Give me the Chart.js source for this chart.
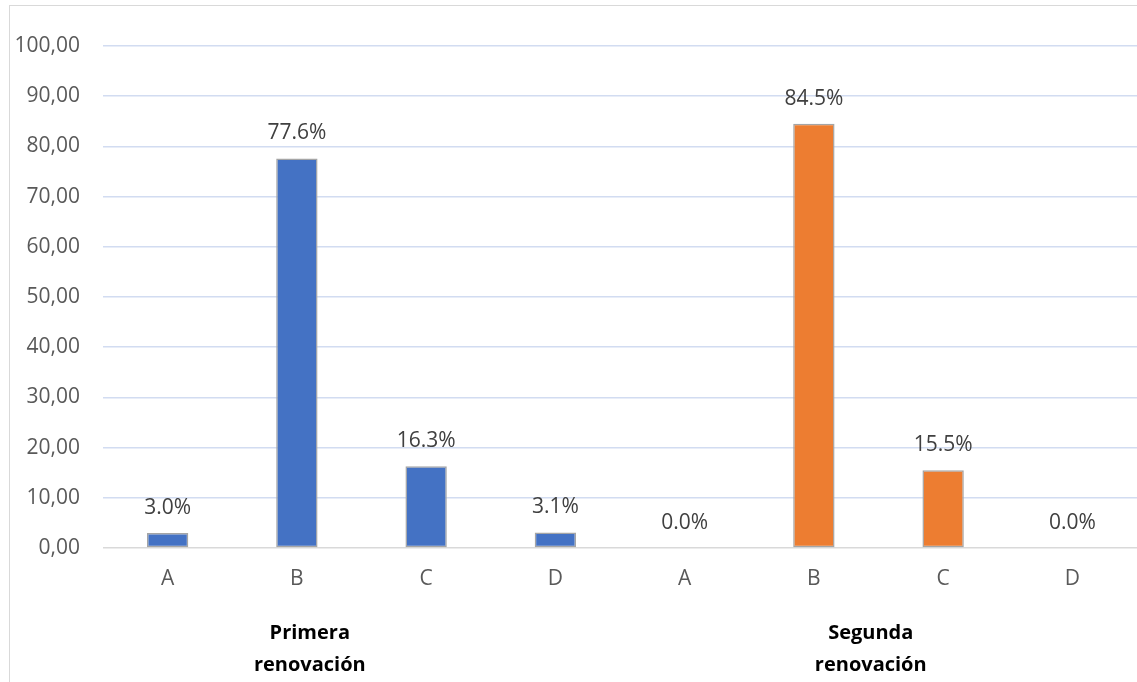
<!DOCTYPE html>
<html lang="es">
<head>
    <meta charset="UTF-8">
    <title>Renovación</title>
    <style>
        html, body {
            margin: 0;
            padding: 0;
            background-color: #ffffff;
        }
        #wrap {
            width: 1137px;
            height: 682px;
            position: relative;
        }
    </style>
    <script src="https://cdn.jsdelivr.net/npm/chart.js"></script>
</head>
<body>
    <div id="wrap">
        <canvas id="chart"></canvas>
    </div>

    <script>
        // categorias y valores
        const categories = ['A', 'B', 'C', 'D', 'A', 'B', 'C', 'D'];
        const primera = [3.0, 77.6, 16.3, 3.1, null, null, null, null];
        const segunda = [null, null, null, null, 0.0, 84.5, 15.5, 0.0];
        const groupLabels = [['Primera', 'renovación'], ['Segunda', 'renovación']];
        const groupAt = [1.1, 5.44];   // posicion en el eje de categorias
        const yTicks = [0, 10, 20, 30, 40, 50, 60, 70, 80, 90, 100];

        const FONT = "'Open Sans', 'DejaVu Sans', sans-serif";

        // marco exterior + etiquetas de grupo + etiquetas de datos
        const extras = {
            id: 'extras',
            beforeDraw(chart) {
                const ctx = chart.ctx;
                ctx.save();
                ctx.strokeStyle = '#d9d9d9';
                ctx.lineWidth = 1;
                ctx.strokeRect(9.5, 5.5, 1200, 800);
                ctx.restore();
            },
            afterDatasetsDraw(chart) {
                const ctx = chart.ctx;
                ctx.save();
                ctx.font = '21px ' + FONT;
                ctx.fillStyle = '#404040';
                ctx.textAlign = 'center';
                ctx.textBaseline = 'middle';
                chart.data.datasets.forEach((ds, i) => {
                    const meta = chart.getDatasetMeta(i);
                    meta.data.forEach((bar, j) => {
                        const v = ds.data[j];
                        if (v === null) return;
                        ctx.fillText(v.toFixed(1) + '%', bar.x, bar.y - 25);
                    });
                });

                const xs = chart.scales.x;
                ctx.font = 'bold 20px ' + FONT;
                ctx.fillStyle = '#000000';
                groupLabels.forEach((lines, k) => {
                    const x = xs.getPixelForValue(groupAt[k]);
                    lines.forEach((t, n) => {
                        ctx.fillText(t, x, 633 + n * 32);
                    });
                });
                ctx.restore();
            }
        };

        new Chart(document.getElementById('chart'), {
            type: 'bar',
            data: {
                labels: categories,
                datasets: [
                    {
                        label: 'Primera renovación',
                        data: primera,
                        backgroundColor: '#4472c4',
                        borderColor: '#a5a5a5',
                        borderWidth: 1.5,
                        borderSkipped: false
                    },
                    {
                        label: 'Segunda renovación',
                        data: segunda,
                        backgroundColor: '#ed7d31',
                        borderColor: '#a5a5a5',
                        borderWidth: 1.5,
                        borderSkipped: false
                    }
                ]
            },
            options: {
                responsive: true,
                maintainAspectRatio: false,
                animation: false,
                grouped: false,
                categoryPercentage: 0.4,
                barPercentage: 0.8,
                layout: {
                    padding: { top: 46, right: -3, bottom: 0, left: 0 }
                },
                scales: {
                    x: {
                        grid: { display: false, drawTicks: false },
                        border: { display: false },
                        ticks: {
                            color: '#595959',
                            font: { size: 21, family: FONT },
                            padding: 18
                        },
                        afterFit(scale) { scale.height = 134; }
                    },
                    y: {
                        min: 0,
                        max: 100,
                        afterBuildTicks(scale) {
                            scale.ticks = yTicks.map(v => ({ value: v }));
                        },
                        grid: {
                            drawTicks: false,
                            lineWidth: 1.5,
                            color: c => c.tick && c.tick.value === 0 ? '#d9d9d9' : '#d2dcf1'
                        },
                        border: { display: false },
                        ticks: {
                            color: '#595959',
                            font: { size: 21, family: FONT },
                            padding: 23,
                            callback: v => v.toFixed(2).replace('.', ',')
                        },
                        afterFit(scale) { scale.width = 103; }
                    }
                },
                plugins: {
                    legend: { display: false },
                    tooltip: { enabled: false }
                }
            },
            plugins: [extras]
        });
    </script>
</body>
</html>
